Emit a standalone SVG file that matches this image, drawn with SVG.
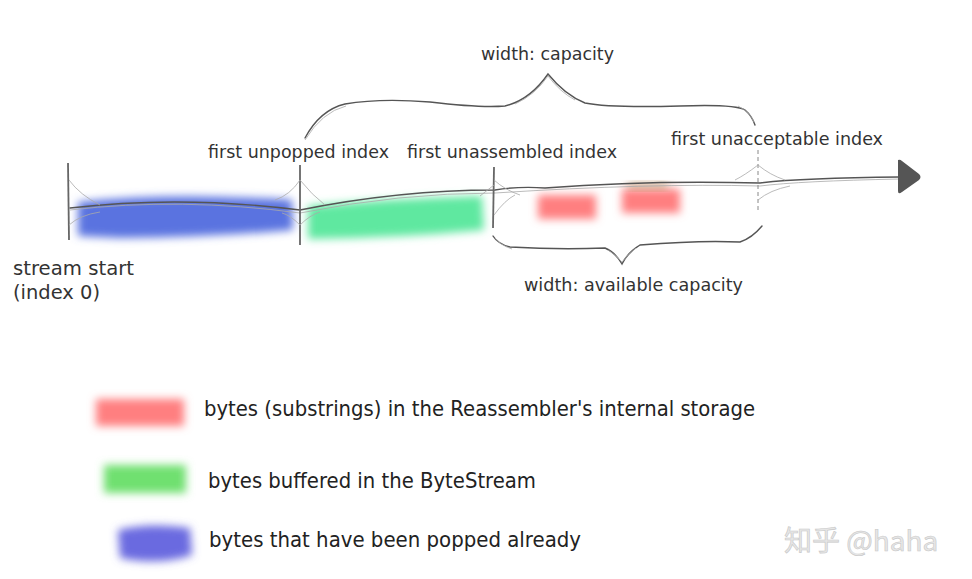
<svg xmlns="http://www.w3.org/2000/svg" width="972" height="579" viewBox="0 0 972 579">
<style>
.t{font-family:"DejaVu Sans","Noto Sans",sans-serif;fill:#333}
.lbl{font-size:17.5px}
.leg{font-size:20.5px;fill:#222}
.sk{fill:none;stroke:#555;stroke-width:1.4;stroke-linecap:round}
.sk2{fill:none;stroke:#aaa;stroke-width:0.8}
.tick{stroke:#666;stroke-width:1.8;fill:none}
</style>
<defs>
<filter id="blur" x="-30%" y="-50%" width="160%" height="200%"><feGaussianBlur stdDeviation="4.5"/></filter>
<filter id="blur2" x="-30%" y="-50%" width="160%" height="200%"><feGaussianBlur stdDeviation="4"/></filter>
</defs>
<rect width="972" height="579" fill="#fff"/>

<g id="bars">
<path d="M78 202 Q150 195 220 197 T292 200 L293 230 Q200 238 120 238 L78 236 Z" fill="#5a73e0" filter="url(#blur)"/>
<path d="M308 206 Q400 198 482 196 L484 230 Q400 238 308 239 Z" fill="#5ee8a0" filter="url(#blur)"/>
<rect x="538" y="195" width="58" height="24" fill="#ff7f80" filter="url(#blur2)"/>
<rect x="622" y="189" width="58" height="24" fill="#ff7f80" filter="url(#blur2)"/>
<rect x="628" y="183" width="40" height="6" fill="#a07a40" opacity="0.6" filter="url(#blur2)"/>
</g>

<g id="connectors">
<path class="sk" d="M70 208 Q180 195 300 210 Q400 190 495 190 Q520 186 545 188 Q650 180 760 183 Q800 178 900 177"/>
<path class="sk2" d="M70 210 Q180 197 300 213 Q400 193 495 193 Q650 183 760 186 Q800 181 900 179"/>
<path d="M898 160 Q900 159 902 161 L919 174 Q922 177 919 180 L902 192 Q898 195 898 191 Z" fill="#555"/>
<path class="tick" d="M68 163 L69 240"/>
<path class="sk2" d="M69 180 Q80 195 100 205 M69 225 Q80 215 100 212"/>
<path class="tick" d="M300 165 L300 245"/>
<path class="sk2" d="M300 180 Q290 195 275 200 M300 180 Q312 195 325 205 M300 225 Q290 215 282 213 M300 225 Q310 215 320 212"/>
<path class="tick" d="M494 167 L493 228"/>
<path class="sk2" d="M494 180 Q505 190 520 195 M494 215 Q505 200 515 195 M494 185 Q485 192 480 196"/>
<path d="M758 150 L758 212" stroke="#888" stroke-width="1" stroke-dasharray="4 3"/>
<path class="sk2" d="M758 165 Q745 175 735 180 M758 165 Q770 175 785 180 M758 200 Q770 190 790 186"/>
<path class="sk" d="M305 138 Q320 110 345 104 Q380 98 430 102 Q480 108 505 106 Q530 100 548 74 Q565 95 585 103 Q610 108 680 106 Q735 104 745 110 Q752 116 755 125"/>
<path class="sk2" d="M305 140 Q322 112 346 106 M515 104 Q535 95 548 76 Q560 92 575 100 M738 106 Q750 112 754 122"/>
<path class="sk" d="M493 236 Q498 244 510 247 Q560 250 605 248 Q615 252 622 264 Q628 252 640 245 Q700 240 740 242 Q752 238 762 226"/>
<path class="sk2" d="M495 238 Q500 245 512 249 M608 250 Q616 255 622 262 Q628 254 636 248"/>
</g>

<g id="labels">
<text class="t lbl" x="481" y="60" textLength="133" lengthAdjust="spacingAndGlyphs">width: capacity</text>
<text class="t lbl" x="208" y="158" textLength="181" lengthAdjust="spacingAndGlyphs">first unpopped index</text>
<text class="t lbl" x="407" y="158" textLength="210" lengthAdjust="spacingAndGlyphs">first unassembled index</text>
<text class="t lbl" x="671" y="145" textLength="212" lengthAdjust="spacingAndGlyphs">first unacceptable index</text>
<text class="t lbl" x="524" y="291" textLength="219" lengthAdjust="spacingAndGlyphs">width: available capacity</text>
<text class="t" style="font-size:19px" x="13" y="275" textLength="121" lengthAdjust="spacingAndGlyphs">stream start</text>
<text class="t" style="font-size:19px" x="13" y="299" textLength="87" lengthAdjust="spacingAndGlyphs">(index 0)</text>
</g>

<g id="legend">
<rect x="96" y="399" width="88" height="27" fill="#ff7f80" filter="url(#blur2)"/>
<rect x="104" y="465" width="82" height="28" fill="#70e070" filter="url(#blur2)"/>
<path d="M118 530 Q150 522 190 528 L192 555 Q160 566 120 558 Z" fill="#6a6ae0" filter="url(#blur2)"/>
<text class="t leg" x="204" y="416" textLength="551" lengthAdjust="spacingAndGlyphs">bytes (substrings) in the Reassembler's internal storage</text>
<text class="t leg" x="208" y="488" textLength="328" lengthAdjust="spacingAndGlyphs">bytes buffered in the ByteStream</text>
<text class="t leg" x="209" y="547" textLength="372" lengthAdjust="spacingAndGlyphs">bytes that have been popped already</text>
</g>

<g id="watermark">
<text x="784" y="551" style="font-family:'Noto Sans CJK SC','DejaVu Sans',sans-serif;font-size:28px;fill:#e6e6e6;stroke:#c8c8c8;stroke-width:0.6">知乎 @haha</text>
</g>
</svg>
